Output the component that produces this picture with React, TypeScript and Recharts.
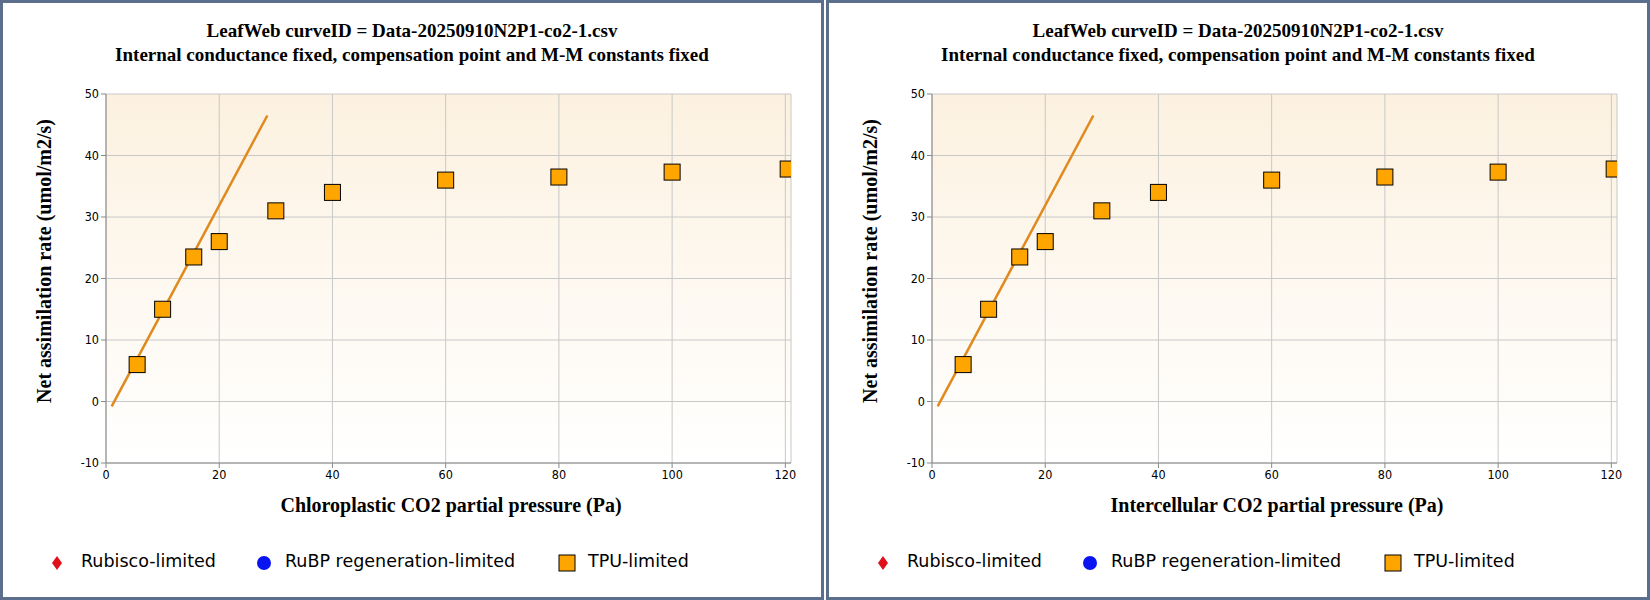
import React from "react";
import { ComposedChart, Line, Scatter, XAxis, YAxis, CartesianGrid } from "recharts";

const tpuX = [5.5, 10, 15.5, 20, 30, 40, 60, 80, 100, 120.5];
const tpuY = [6, 15, 23.5, 26, 31, 34, 36, 36.5, 37.3, 37.8];
const fitX = [1, 28.5];
const fitY = [-0.8, 46.5];
const xTicks = [0, 20, 40, 60, 80, 100, 120];
const yTicks = [-10, 0, 10, 20, 30, 40, 50];

const tpuData = tpuX.map((x, i) => ({ x, y: tpuY[i] }));
const fitData = fitX.map((x, i) => ({ x, y: fitY[i] }));

const Square = (p: any) => (
  <rect x={p.cx - 8} y={p.cy - 8} width={16} height={16} fill="#ffa500" stroke="#000" strokeWidth={1} />
);

const tickStyle = { fontFamily: "'DejaVu Sans Condensed', 'Liberation Sans'", fontSize: 12.5, fill: "#000" };

function Panel({ left, xlabel, id }: { left: number; xlabel: string; id: string }) {
  return (
    <div style={{ position: "absolute", left, top: 0, width: 824, height: 600, boxSizing: "border-box", border: "3px solid #5b6f8d", background: "#fff" }}>
      <div style={{ position: "absolute", left: -3, top: 0, width: 824, textAlign: "center", fontFamily: "'Liberation Serif'", fontWeight: "bold", fontSize: 19, lineHeight: "24px", paddingTop: 16 }}>
        LeafWeb curveID = Data-20250910N2P1-co2-1.csv<br />Internal conductance fixed, compensation point and M-M constants fixed
      </div>
      <div style={{ position: "absolute", left: -3, top: -3 }}>
        <ComposedChart width={824} height={600} margin={{ top: 94, right: 33, left: 46, bottom: 107 }}>
          <defs>
            <linearGradient id={id} x1="0" y1="0" x2="0" y2="1">
              <stop offset="0%" stopColor="#fcf1e0" />
              <stop offset="100%" stopColor="#ffffff" />
            </linearGradient>
          </defs>
          <CartesianGrid stroke="#c8c8c8" fill={`url(#${id})`} />
          <XAxis type="number" dataKey="x" domain={[0, 121]} ticks={xTicks} tick={tickStyle} stroke="#888" tickSize={5} height={30} allowDataOverflow />
          <YAxis type="number" dataKey="y" domain={[-10, 50]} ticks={yTicks} tick={tickStyle} stroke="#888" tickSize={5} width={60} allowDataOverflow />
          <Line data={fitData} dataKey="y" stroke="#e0891c" strokeWidth={2.5} dot={false} isAnimationActive={false} />
          <Scatter data={tpuData} dataKey="y" shape={Square} isAnimationActive={false} />
        </ComposedChart>
      </div>
      <div style={{ position: "absolute", left: 106, width: 684, top: 491, textAlign: "center", fontFamily: "'Liberation Serif'", fontWeight: "bold", fontSize: 20 }}>{xlabel}</div>
      <div style={{ position: "absolute", left: 41, top: 258, transform: "translate(-50%,-50%) rotate(-90deg)", whiteSpace: "nowrap", fontFamily: "'Liberation Serif'", fontWeight: "bold", fontSize: 20 }}>Net assimilation rate (umol/m2/s)</div>
      <div style={{ position: "absolute", top: 548, left: 0, fontFamily: "'DejaVu Sans'", fontSize: 17.5 }}>
        <svg style={{ position: "absolute", left: 47, top: 4 }} width={14} height={16}><polygon points="7,1 12,8 7,15 2,8" fill="#e0101a" /></svg>
        <span style={{ position: "absolute", left: 78, whiteSpace: "nowrap" }}>Rubisco-limited</span>
        <svg style={{ position: "absolute", left: 253, top: 4 }} width={16} height={16}><circle cx={8} cy={8} r={7} fill="#0a14f0" /></svg>
        <span style={{ position: "absolute", left: 282, whiteSpace: "nowrap" }}>RuBP regeneration-limited</span>
        <svg style={{ position: "absolute", left: 555, top: 3 }} width={18} height={18}><rect x={1} y={1} width={16} height={16} fill="#ffa500" stroke="#000" /></svg>
        <span style={{ position: "absolute", left: 585, whiteSpace: "nowrap" }}>TPU-limited</span>
      </div>
    </div>
  );
}

export default function App() {
  return (
    <div style={{ position: "absolute", left: 0, top: 0, width: 1650, height: 600, background: "#fff" }}>
      <Panel left={0} xlabel="Chloroplastic CO2 partial pressure (Pa)" id="g1" />
      <Panel left={826} xlabel="Intercellular CO2 partial pressure (Pa)" id="g2" />
    </div>
  );
}
